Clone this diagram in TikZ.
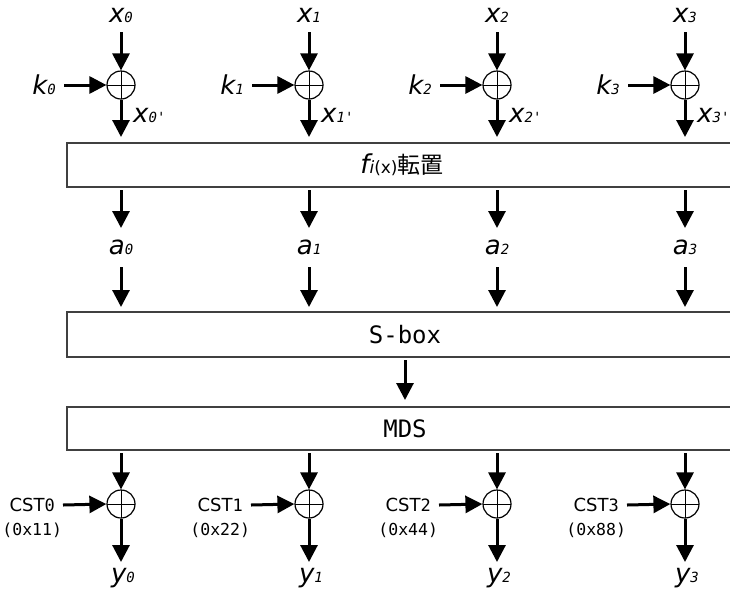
\documentclass[tikz,border=0pt]{standalone}
\usepackage{fontspec}
\setmainfont{DejaVu Sans}
\setmonofont{DejaVu Sans Mono}
\newfontfamily\cjk{Noto Sans CJK JP}
\usetikzlibrary{arrows.meta}

% italic letter with a small digit on its baseline
\newcommand{\vlab}[2]{{\fontsize{26}{26}\selectfont\itshape #1}{\fontsize{14}{14}\selectfont\ttfamily\itshape #2}}
\newcommand{\cstlab}[1]{{\fontsize{18}{18}\selectfont CST}{\fontsize{17}{17}\selectfont\ttfamily #1}}

\tikzset{
  arr/.style={line width=3pt, -{Triangle[length=17pt,width=17pt]}},
  xorop/.style={circle, draw, line width=1.2pt, minimum size=28pt, inner sep=0pt,
    path picture={\draw[line width=1pt] (path picture bounding box.north) -- (path picture bounding box.south)
      (path picture bounding box.west) -- (path picture bounding box.east);}},
  stage/.style={draw=black!75, line width=1.2pt, fill=white},
  lbl/.style={inner sep=0pt},
  stagetxt/.style={inner sep=0pt, font=\fontsize{24}{24}\selectfont\ttfamily},
}

\begin{document}
\begin{tikzpicture}[x=1pt,y=-1pt]
  \path[use as bounding box] (0,0) rectangle (730,595);
  \clip (0,0) rectangle (730,595);

  % three stages spanning all four lanes
  \draw[stage] (67,143) rectangle (743,187);
  \draw[stage] (67,312) rectangle (743,357);
  \draw[stage] (67,407) rectangle (743,450);
  \coordinate (fN) at (405,143);
  \coordinate (fS) at (405,187);
  \coordinate (sN) at (405,312);
  \coordinate (sS) at (405,357);
  \coordinate (mN) at (405,407);
  \coordinate (mS) at (405,450);
  \node[lbl] (ftxt) at (402,165) {{\fontsize{26}{26}\selectfont\itshape f}{\fontsize{17}{17}\selectfont\itshape i}{\fontsize{17}{17}\selectfont(x)}{\fontsize{23}{23}\selectfont\cjk 転置}};
  \node[stagetxt] (stxt) at (405,335) {S-box};
  \node[stagetxt] (mtxt) at (405,429) {MDS};
  \draw[arr, shorten <=3pt, shorten >=7pt] (sS) -- (mN);

  \foreach \i/\X/\c in {0/121/11, 1/309/22, 2/497/44, 3/685/88} {
    % key addition
    \node[lbl] (x\i) at (\X,15) {\vlab{x}{\i}};
    \node[xorop] (kx\i) at (\X,85) {};
    \node[lbl, anchor=east] (k\i) at (\X-65,85) {\vlab{k}{\i}};
    \draw[arr] (\X,32) coordinate (xs\i) -- (kx\i.north);
    \draw[arr] ([xshift=8pt]k\i.east) -- (kx\i.west);
    \draw[arr, shorten >=6pt] (kx\i.south) -- (kx\i |- fN);
    \node[lbl, anchor=west] (xp\i) at (\X+12,115) {\vlab{x}{\i'}};

    % transposed values
    \node[lbl] (a\i) at (\X,247) {\vlab{a}{\i}};
    \draw[arr, shorten <=3pt] (a\i |- fS) -- ++(0,41) coordinate (at\i);
    \draw[arr, shorten >=5pt] (\X,267) coordinate (ab\i) -- (a\i |- sN);

    % constant addition
    \node[xorop] (cx\i) at (\X,504) {};
    \draw[arr, shorten <=3pt] (cx\i |- mS) -- (cx\i.north);
    \node[lbl, anchor=east] (c\i) at (\X-66,505) {\cstlab{\i}};
    \node[lbl, font=\fontsize{16.5}{16.5}\selectfont\ttfamily] (cv\i) at (c\i.center |- 0,530) {(0x\c)};
    \draw[arr] ([xshift=8pt]c\i.east) -- (cx\i.west);
    \node[lbl] (y\i) at (\X+2,578) {\vlab{y}{\i}};
    \draw[arr] (cx\i.south) -- (\X,562) coordinate (yt\i);
  }
\end{tikzpicture}
\end{document}
